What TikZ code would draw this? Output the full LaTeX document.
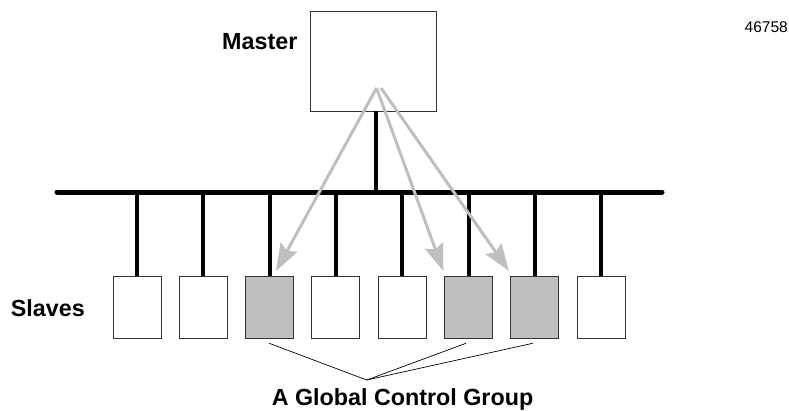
\documentclass[tikz,border=0pt]{standalone}
\usepackage{fontspec}
\setmainfont{Liberation Sans}
\usetikzlibrary{arrows.meta}
\begin{document}
\begin{tikzpicture}[x=1pt,y=-1pt,
  box/.style={draw=black!80,line width=0.9pt,minimum width=48pt,minimum height=62pt,inner sep=0pt,fill=white},
  gbox/.style={box,fill=black!25},
  mbox/.style={draw=black!80,line width=0.9pt,minimum width=126pt,minimum height=100pt,inner sep=0pt},
  wire/.style={line width=4pt,black},
  buswire/.style={line width=5pt,black,line cap=round},
  garrow/.style={line width=3pt,color=black!25,-{Stealth[length=27pt,width=19pt,inset=4pt]}},
  grpline/.style={line width=0.7pt,black},
  lbl/.style={font=\bfseries\fontsize{23.3}{26}\selectfont,inner sep=0pt,anchor=base}
]
\useasboundingbox (0,0) rectangle (789,410);
% master
\node[mbox] (master) at (373,61) {};
\node[lbl] (mlabel) at (259.8,49) {Master};
\node[font=\fontsize{15.5}{17}\selectfont,inner sep=0pt,anchor=base east] (num) at (788,32.5) {46758};
% bus
\coordinate (busL) at (57,192);
\coordinate (busR) at (662,192);
\draw[buswire] (busL) -- (busR);
\draw[wire] (375.7,111) coordinate (stemtop) -- (375.7,192) coordinate (stembot);
% slaves
\foreach \i/\s in {0/box,1/box,2/gbox,3/box,4/box,5/gbox,6/gbox,7/box}{
  \pgfmathsetmacro{\xx}{137+66.3*\i}
  \node[\s] (s\i) at (\xx,307.7) {};
  \coordinate (d\i) at (\xx,192);
  \draw[wire] (d\i) -- (s\i.north);
}
\node[lbl] (slabel) at (47.8,316) {Slaves};
% arrows
\coordinate (a0) at (376.5,88);
\coordinate (a1) at (381,88);
\coordinate (t0) at (276,271);
\coordinate (t1) at (443.3,271);
\coordinate (t2) at (509,271);
\draw[garrow] (a0) -- (t0);
\draw[garrow] (a0) -- (t1);
\draw[garrow] (a1) -- (t2);
% group lines
\coordinate (g) at (366.7,380);
\coordinate (g0) at (269.3,343.3);
\coordinate (g1) at (466,343.3);
\coordinate (g2) at (532.7,343.3);
\draw[grpline] (g0) -- (g) -- (g1);
\draw[grpline] (g) -- (g2);
\node[lbl] (glabel) at (402.5,405) {A Global Control Group};
\end{tikzpicture}
\end{document}
